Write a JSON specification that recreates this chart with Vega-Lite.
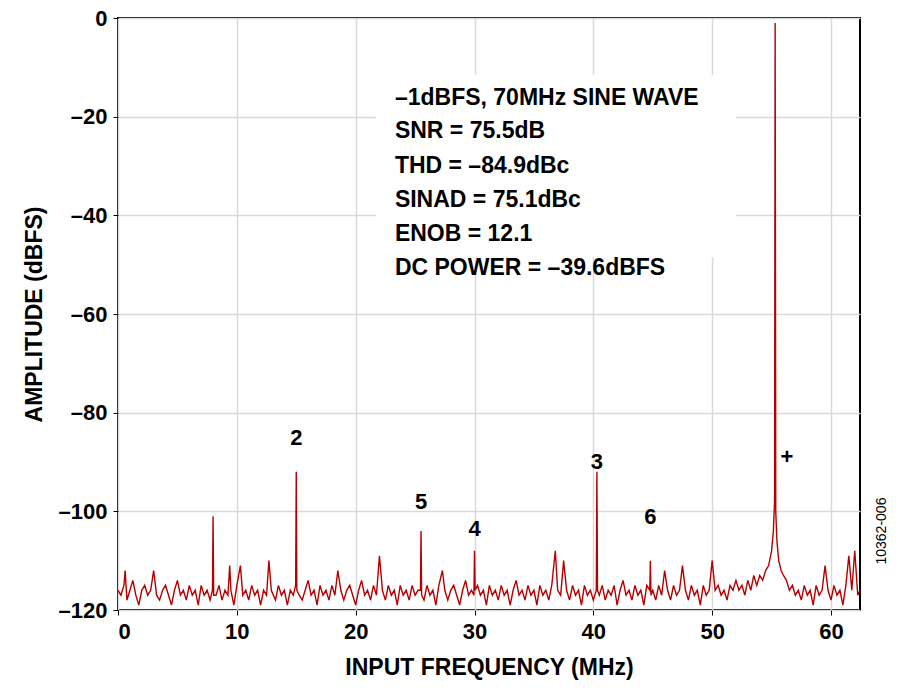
{
  "$schema": "https://vega.github.io/schema/vega-lite/v6.json",
  "width": 742,
  "height": 592,
  "autosize": "none",
  "padding": {"left": 118, "top": 18, "right": 40, "bottom": 87},
  "background": "white",
  "config": {
    "view": {"stroke": "black", "strokeWidth": 2},
    "font": "Liberation Sans",
    "axis": {"labelFont": "Liberation Sans", "titleFont": "Liberation Sans", "labelFontWeight": "bold", "titleFontWeight": "bold", "labelFontSize": 22, "titleFontSize": 23, "labelColor": "black", "titleColor": "black", "gridColor": "#d9d9d9", "gridWidth": 1.5, "domain": false, "tickColor": "black", "tickSize": 5}
  },
  "datasets": {
    "spec": [
      {"f":0,"a":-116},{"f":0.25,"a":-117},{"f":0.5,"a":-115},{"f":0.6,"a":-112},{"f":0.75,"a":-118},{"f":1,"a":-116},{"f":1.25,"a":-114},{"f":1.5,"a":-117},{"f":1.75,"a":-119},{"f":2,"a":-116},{"f":2.25,"a":-115},{"f":2.5,"a":-117},{"f":2.75,"a":-116},{"f":3,"a":-112},{"f":3.25,"a":-117},{"f":3.5,"a":-118},{"f":3.75,"a":-116},{"f":4,"a":-115},{"f":4.25,"a":-117},{"f":4.5,"a":-119},{"f":4.75,"a":-116},{"f":5,"a":-114},{"f":5.25,"a":-117},{"f":5.5,"a":-116},{"f":5.75,"a":-118},{"f":6,"a":-115},{"f":6.25,"a":-117},{"f":6.5,"a":-116},{"f":6.75,"a":-119},{"f":7,"a":-115},{"f":7.25,"a":-117},{"f":7.5,"a":-116},{"f":7.75,"a":-118},
      {"f":7.95,"a":-116},{"f":8.0,"a":-101},{"f":8.05,"a":-117},{"f":8.25,"a":-117},{"f":8.5,"a":-115},{"f":8.75,"a":-118},{"f":9,"a":-116},{"f":9.25,"a":-117},{"f":9.4,"a":-111},{"f":9.5,"a":-116},{"f":9.75,"a":-119},{"f":10,"a":-115},{"f":10.3,"a":-111},{"f":10.5,"a":-117},{"f":10.75,"a":-116},{"f":11,"a":-118},{"f":11.25,"a":-115},{"f":11.5,"a":-117},{"f":11.75,"a":-116},{"f":12,"a":-119},{"f":12.25,"a":-116},{"f":12.5,"a":-117},{"f":12.7,"a":-110},{"f":12.9,"a":-116},{"f":13.25,"a":-118},{"f":13.5,"a":-115},{"f":13.75,"a":-117},{"f":14,"a":-116},{"f":14.25,"a":-119},{"f":14.5,"a":-116},{"f":14.75,"a":-117},
      {"f":14.95,"a":-115},{"f":15.0,"a":-92},{"f":15.05,"a":-116},{"f":15.25,"a":-117},{"f":15.5,"a":-118},{"f":15.75,"a":-116},{"f":16,"a":-114},{"f":16.25,"a":-117},{"f":16.5,"a":-116},{"f":16.75,"a":-119},{"f":17,"a":-115},{"f":17.25,"a":-117},{"f":17.5,"a":-116},{"f":17.75,"a":-118},{"f":18,"a":-115},{"f":18.25,"a":-117},{"f":18.5,"a":-112},{"f":18.75,"a":-116},{"f":19,"a":-118},{"f":19.25,"a":-116},{"f":19.5,"a":-115},{"f":19.75,"a":-117},{"f":20,"a":-119},{"f":20.25,"a":-116},{"f":20.5,"a":-114},{"f":20.75,"a":-117},{"f":21,"a":-116},{"f":21.25,"a":-118},{"f":21.5,"a":-115},{"f":21.75,"a":-117},{"f":22,"a":-109},{"f":22.25,"a":-116},{"f":22.5,"a":-118},{"f":22.75,"a":-115},{"f":23,"a":-117},{"f":23.25,"a":-116},{"f":23.5,"a":-119},{"f":23.75,"a":-115},{"f":24,"a":-117},{"f":24.25,"a":-116},{"f":24.5,"a":-118},{"f":24.75,"a":-115},{"f":25,"a":-117},{"f":25.25,"a":-116},
      {"f":25.45,"a":-116},{"f":25.5,"a":-104},{"f":25.55,"a":-117},{"f":25.75,"a":-118},{"f":26,"a":-115},{"f":26.25,"a":-117},{"f":26.5,"a":-116},{"f":26.75,"a":-119},{"f":27,"a":-115},{"f":27.3,"a":-112},{"f":27.5,"a":-116},{"f":27.75,"a":-118},{"f":28,"a":-116},{"f":28.25,"a":-115},{"f":28.5,"a":-117},{"f":28.75,"a":-119},{"f":29,"a":-116},{"f":29.25,"a":-114},{"f":29.5,"a":-117},{"f":29.75,"a":-116},
      {"f":29.95,"a":-117},{"f":30.0,"a":-108},{"f":30.05,"a":-116},{"f":30.25,"a":-115},{"f":30.5,"a":-117},{"f":30.75,"a":-116},{"f":31,"a":-119},{"f":31.25,"a":-115},{"f":31.5,"a":-117},{"f":31.75,"a":-116},{"f":32,"a":-118},{"f":32.25,"a":-115},{"f":32.5,"a":-117},{"f":32.75,"a":-116},{"f":33,"a":-119},{"f":33.25,"a":-116},{"f":33.5,"a":-114},{"f":33.75,"a":-117},{"f":34,"a":-116},{"f":34.25,"a":-118},{"f":34.5,"a":-115},{"f":34.75,"a":-117},{"f":35,"a":-116},{"f":35.25,"a":-119},{"f":35.5,"a":-115},{"f":35.75,"a":-117},{"f":36,"a":-116},{"f":36.25,"a":-118},{"f":36.5,"a":-115},{"f":36.8,"a":-108},{"f":37,"a":-116},{"f":37.25,"a":-117},{"f":37.5,"a":-110},{"f":37.75,"a":-116},{"f":38,"a":-118},{"f":38.25,"a":-115},{"f":38.5,"a":-117},{"f":38.75,"a":-116},{"f":39,"a":-119},{"f":39.25,"a":-115},{"f":39.5,"a":-117},{"f":39.75,"a":-116},{"f":40,"a":-118},
      {"f":40.25,"a":-116},{"f":40.3,"a":-92},{"f":40.35,"a":-116},{"f":40.5,"a":-117},{"f":40.75,"a":-115},{"f":41,"a":-118},{"f":41.25,"a":-116},{"f":41.5,"a":-117},{"f":41.75,"a":-115},{"f":42,"a":-119},{"f":42.25,"a":-116},{"f":42.5,"a":-114},{"f":42.75,"a":-117},{"f":43,"a":-116},{"f":43.25,"a":-118},{"f":43.5,"a":-115},{"f":43.75,"a":-117},{"f":44,"a":-116},{"f":44.25,"a":-119},{"f":44.5,"a":-115},
      {"f":44.75,"a":-116},{"f":44.8,"a":-110},{"f":44.85,"a":-117},{"f":45,"a":-116},{"f":45.25,"a":-118},{"f":45.5,"a":-115},{"f":45.75,"a":-117},{"f":46,"a":-112},{"f":46.25,"a":-116},{"f":46.5,"a":-118},{"f":46.75,"a":-115},{"f":47,"a":-117},{"f":47.25,"a":-116},{"f":47.5,"a":-111},{"f":47.75,"a":-116},{"f":48,"a":-118},{"f":48.25,"a":-115},{"f":48.5,"a":-117},{"f":48.75,"a":-116},{"f":49,"a":-119},{"f":49.25,"a":-115},{"f":49.5,"a":-117},{"f":49.75,"a":-116},{"f":50,"a":-110},{"f":50.25,"a":-116},{"f":50.5,"a":-115},{"f":50.75,"a":-117},{"f":51,"a":-116},{"f":51.25,"a":-118},{"f":51.5,"a":-115},{"f":51.75,"a":-116},{"f":52,"a":-114},{"f":52.25,"a":-116},{"f":52.5,"a":-115},{"f":52.75,"a":-117},{"f":53,"a":-114},{"f":53.25,"a":-116},{"f":53.5,"a":-113},{"f":53.75,"a":-115},{"f":54,"a":-113},{"f":54.25,"a":-114},{"f":54.5,"a":-112},{"f":54.75,"a":-111},{"f":55,"a":-108},{"f":55.15,"a":-104},{"f":55.25,"a":-98},
      {"f":55.3,"a":-1},{"f":55.35,"a":-100},{"f":55.45,"a":-106},{"f":55.6,"a":-110},{"f":55.8,"a":-112},{"f":56,"a":-113},{"f":56.25,"a":-114},{"f":56.5,"a":-116},{"f":56.75,"a":-115},{"f":57,"a":-117},{"f":57.25,"a":-116},{"f":57.5,"a":-118},{"f":57.75,"a":-115},{"f":58,"a":-117},{"f":58.25,"a":-116},{"f":58.5,"a":-119},{"f":58.75,"a":-115},{"f":59,"a":-117},{"f":59.25,"a":-116},{"f":59.5,"a":-111},{"f":59.75,"a":-116},{"f":60,"a":-118},{"f":60.25,"a":-115},{"f":60.5,"a":-117},{"f":60.75,"a":-116},{"f":61,"a":-119},{"f":61.25,"a":-115},{"f":61.5,"a":-109},{"f":61.75,"a":-116},{"f":62,"a":-108},{"f":62.25,"a":-117},{"f":62.44,"a":-116}
    ],
    "labels": [
      {"f":15,"a":-87.5,"t":"2"},{"f":40.3,"a":-92.5,"t":"3"},{"f":30,"a":-106,"t":"4"},{"f":25.5,"a":-100.5,"t":"5"},{"f":44.8,"a":-103.5,"t":"6"},{"f":56.3,"a":-91.5,"t":"+"}
    ],
    "box": [
      {"t":"–1dBFS, 70MHz SINE WAVE","a":-16.2},{"t":"SNR = 75.5dB","a":-23},{"t":"THD = –84.9dBc","a":-29.9},{"t":"SINAD = 75.1dBc","a":-36.8},{"t":"ENOB = 12.1","a":-43.7},{"t":"DC POWER = –39.6dBFS","a":-50.6}
    ]
  },
  "layer": [
    {
      "data": {"values": [{"x1":21.7,"x2":52.0,"y1":-11.5,"y2":-48.5}]},
      "mark": {"type": "rect", "color": "white"},
      "encoding": {
        "x": {"field": "x1", "type": "quantitative"},
        "x2": {"field": "x2"},
        "y": {"field": "y1", "type": "quantitative"},
        "y2": {"field": "y2"}
      }
    },
    {
      "data": {"name": "spec"},
      "mark": {"type": "line", "color": "#b30000", "strokeWidth": 1.4},
      "encoding": {
        "x": {"field": "f", "type": "quantitative", "scale": {"domain": [0, 62.44], "nice": false}, "axis": {"values": [0,10,20,30,40,50,60], "title": "INPUT FREQUENCY (MHz)", "titlePadding": 14, "labelPadding": 6}},
        "y": {"field": "a", "type": "quantitative", "scale": {"domain": [-120, 0], "nice": false}, "axis": {"values": [-120,-100,-80,-60,-40,-20,0], "title": "AMPLITUDE (dBFS)", "titlePadding": 12, "labelPadding": 6, "labelExpr": "datum.value < 0 ? '–' + abs(datum.value) : datum.value"}}
      }
    },
    {
      "data": {"name": "labels"},
      "mark": {"type": "text", "fontSize": 22, "fontWeight": "bold", "color": "black", "baseline": "bottom"},
      "encoding": {
        "x": {"field": "f", "type": "quantitative"},
        "y": {"field": "a", "type": "quantitative"},
        "text": {"field": "t"}
      }
    },
    {
      "data": {"name": "box"},
      "mark": {"type": "text", "fontSize": 23, "fontWeight": "bold", "color": "black", "align": "left", "baseline": "middle"},
      "encoding": {
        "x": {"datum": 23.3, "type": "quantitative"},
        "y": {"field": "a", "type": "quantitative"},
        "text": {"field": "t"}
      }
    },
    {
      "data": {"values": [{"t":"10362-006"}]},
      "mark": {"type": "text", "fontSize": 14, "angle": 270, "color": "black", "baseline": "middle"},
      "encoding": {
        "x": {"datum": 64.3, "type": "quantitative"},
        "y": {"datum": -104, "type": "quantitative"},
        "text": {"field": "t"}
      }
    }
  ]
}
